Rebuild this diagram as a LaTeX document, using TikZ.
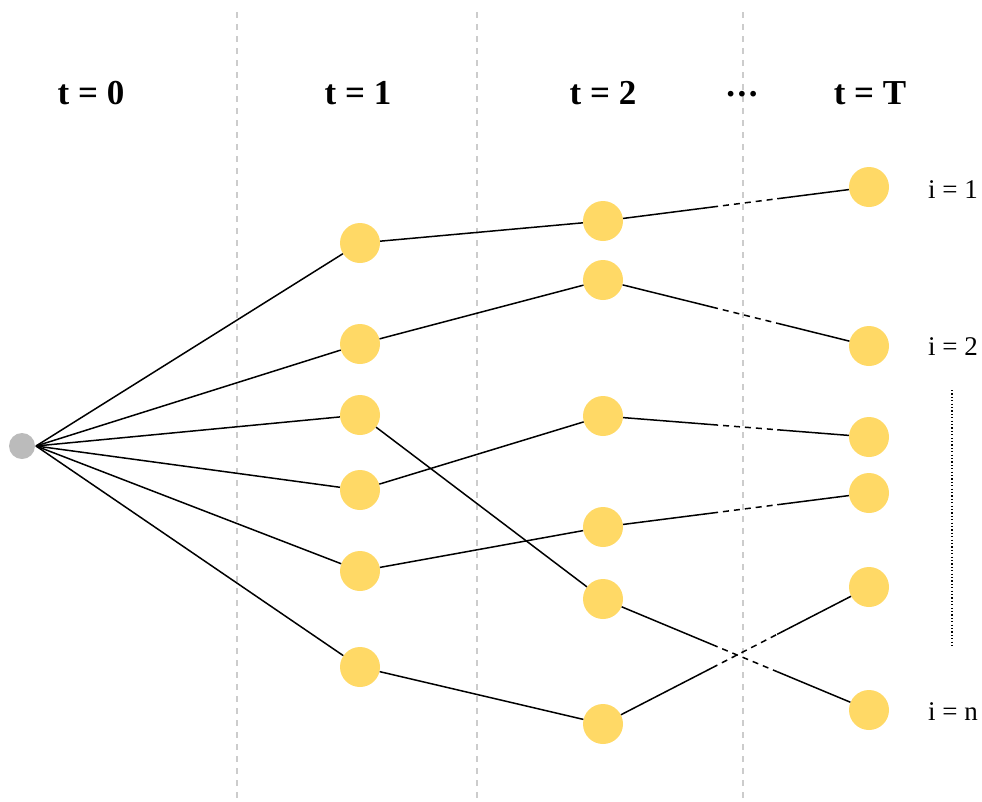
\documentclass[tikz,border=0pt]{standalone}
\usepackage{fontspec}
\setmainfont{Liberation Serif}
\usetikzlibrary{calc}
\definecolor{nodeyellow}{HTML}{FFD966}
\definecolor{rootgray}{HTML}{BBBBBB}
\definecolor{sepgray}{HTML}{CCCCCC}
\tikzset{
  ynode/.style={circle, fill=nodeyellow, minimum size=40pt, inner sep=0pt},
  rnode/.style={circle, fill=rootgray, minimum size=26pt, inner sep=0pt},
  edge/.style={black, line width=1.5pt},
  midgap/.style={black, line width=1.5pt, dash pattern=on 6pt off 5pt},
  sep/.style={sepgray, line width=1.2pt, dash pattern=on 6pt off 6pt},
  head/.style={font=\fontsize{35}{38}\selectfont\bfseries},
  ilab/.style={font=\fontsize{27}{30}\selectfont},
}
\begin{document}
\begin{tikzpicture}[x=1pt,y=-1pt]
\useasboundingbox (0,0) rectangle (982,801);
% separators
\coordinate (s1a) at (237,12); \coordinate (s1b) at (237,801);
\coordinate (s2a) at (477,12); \coordinate (s2b) at (477,801);
\coordinate (s3a) at (743,12); \coordinate (s3b) at (743,801);
\draw[sep] (s1a) -- (s1b);
\draw[sep] (s2a) -- (s2b);
\draw[sep] (s3a) -- (s3b);
% headers
\node[head] (h0) at (91,93) {t = 0};
\node[head] (h1) at (358,93) {t = 1};
\node[head] (h2) at (603,93) {t = 2};
\node[head, inner sep=0pt] (hd) at (742,94) {.\kern2.5pt.\kern2.5pt.};
\node[head] (hT) at (870,93) {t = T};
\coordinate (rp) at (36,446);
% nodes
\node[ynode] (a1) at (360,243) {};
\node[ynode] (a2) at (360,344) {};
\node[ynode] (a3) at (360,415) {};
\node[ynode] (a4) at (360,490) {};
\node[ynode] (a5) at (360,571) {};
\node[ynode] (a6) at (360,667) {};
\node[ynode] (b1) at (603,221) {};
\node[ynode] (b2) at (603,280) {};
\node[ynode] (b3) at (603,416) {};
\node[ynode] (b4) at (603,527) {};
\node[ynode] (b5) at (603,599) {};
\node[ynode] (b6) at (603,724) {};
\node[ynode] (c1) at (869,187) {};
\node[ynode] (c2) at (869,346) {};
\node[ynode] (c3) at (869,437) {};
\node[ynode] (c4) at (869,493) {};
\node[ynode] (c5) at (869,587) {};
\node[ynode] (c6) at (869,710) {};
\foreach \t in {a1,a2,a3,a4,a5,a6} \draw[edge] (rp) -- (\t);
\node[rnode] (r) at (22,446) {};
% labels
\node[ilab] (i1) at (953,190) {i = 1};
\node[ilab] (i2) at (953,347) {i = 2};
\node[ilab] (in) at (953,712) {i = n};
\coordinate (dt) at (952,390); \coordinate (db) at (952,648);
\draw[black, line width=1.2pt, dash pattern=on 1.2pt off 2.2pt] (dt) -- (db);
\draw[edge] (a1) -- (b1);
\draw[edge] (a2) -- (b2);
\draw[edge] (a3) -- (b5);
\draw[edge] (a4) -- (b3);
\draw[edge] (a5) -- (b4);
\draw[edge] (a6) -- (b6);
\foreach \s/\e in {b1/c1,b2/c2,b3/c3,b4/c4,b5/c6,b6/c5}{
  \draw[edge] (\s) -- ($(\s)!0.41!(\e)$);
  \draw[midgap] ($(\s)!0.41!(\e)$) -- ($(\s)!0.655!(\e)$);
  \draw[edge] ($(\s)!0.655!(\e)$) -- (\e);
}
\end{tikzpicture}
\end{document}
